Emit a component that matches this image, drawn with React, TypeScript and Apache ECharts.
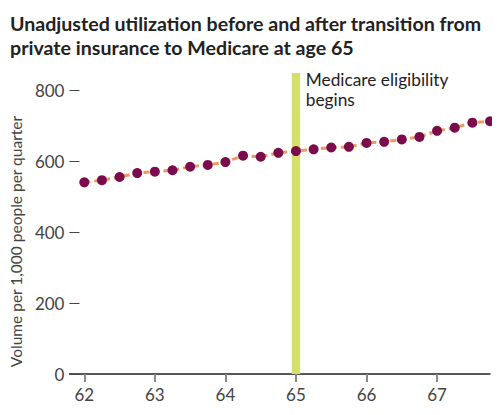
import React, { useEffect, useRef } from "react";
import * as echarts from "echarts";

const ages = [62, 62.25, 62.5, 62.75, 63, 63.25, 63.5, 63.75, 64, 64.25, 64.5, 64.75, 65, 65.25, 65.5, 65.75, 66, 66.25, 66.5, 66.75, 67, 67.25, 67.5, 67.75];
const volumes = [540, 546, 555, 566, 570, 574, 584, 589, 597, 615, 612, 623, 628, 633, 638, 640, 651, 654, 661, 668, 685, 694, 708, 712];
const xTicks = [62, 63, 64, 65, 66, 67];
const yTicks = [0, 200, 400, 600, 800];
const eligibilityAge = 65;
const titleLines = ["Unadjusted utilization before and after transition from", "private insurance to Medicare at age 65"];
const yAxisName = "Volume per 1,000 people per quarter";
const bandLabel = "Medicare eligibility\nbegins";

const FONT = "Lato";

export default function App() {
  const ref = useRef<HTMLDivElement>(null);
  useEffect(() => {
    if (!ref.current) return;
    const chart = echarts.init(ref.current, null, { renderer: "svg" });
    chart.setOption({
      animation: false,
      backgroundColor: "#ffffff",
      title: {
        text: titleLines.join("\n"),
        left: 5,
        top: 6,
        textStyle: { fontFamily: FONT, fontWeight: "bold", fontSize: 19.6, lineHeight: 24, color: "#222" },
      },
      grid: { left: 68, right: 10, top: 73, bottom: 41 },
      xAxis: {
        type: "value",
        min: 61.79,
        max: 67.75,
        axisLine: { show: true, lineStyle: { color: "#222", width: 1.5 } },
        axisTick: { show: true, length: 8, lineStyle: { color: "#888", width: 2 }, customValues: xTicks },
        axisLabel: { fontFamily: FONT, fontSize: 17, color: "#444", margin: 12, customValues: xTicks },
        splitLine: { show: false },
      },
      yAxis: {
        type: "value",
        min: 0,
        max: 848,
        name: yAxisName,
        nameLocation: "middle",
        nameGap: 44,
        nameTextStyle: { fontFamily: FONT, fontSize: 15.5, color: "#444", padding: [0, 0, 0, -36] },
        axisLine: { show: false },
        axisTick: { show: true, inside: true, length: 10, lineStyle: { color: "#444", width: 1 }, customValues: yTicks },
        axisLabel: { fontFamily: FONT, fontSize: 17, color: "#444", margin: 5, customValues: yTicks },
        splitLine: { show: false },
      },
      series: [
        {
          type: "line",
          data: ages.map((a, i) => [a, volumes[i]]),
          symbol: "circle",
          symbolSize: 10,
          itemStyle: { color: "#7b0b4a" },
          lineStyle: { color: "#ec9a5e", width: 3, type: [6, 4] },
          z: 3,
          markArea: {
            silent: true,
            itemStyle: { color: "#d5e06c" },
            label: {
              show: true,
              position: [14, -4],
              formatter: bandLabel,
              fontFamily: FONT,
              fontSize: 17.3,
              lineHeight: 20,
              color: "#222",
              align: "left",
              verticalAlign: "top",
            },
            data: [[{ xAxis: eligibilityAge - 0.06 }, { xAxis: eligibilityAge + 0.06 }]],
          },
        },
      ],
    });
    return () => chart.dispose();
  }, []);
  return <div ref={ref} style={{ width: 500, height: 415, margin: -8 }} />;
}
